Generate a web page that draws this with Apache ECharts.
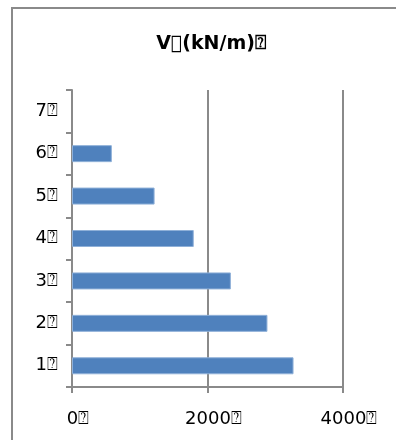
<!DOCTYPE html>
<html>
<head>
<meta charset="utf-8">
<script src="https://cdn.jsdelivr.net/npm/echarts@6/dist/echarts.min.js"></script>
<style>
html,body{margin:0;padding:0;background:#fff;}
#c{width:396px;height:440px;}
</style>
</head>
<body>
<div id="c"></div>
<script>
var BOX = '\u2370';
var HEX = '\uE000';
var titleText = 'V' + HEX + '(kN/m)' + BOX;
var categories = ['1' + BOX, '2' + BOX, '3' + BOX, '4' + BOX, '5' + BOX, '6' + BOX, '7' + BOX];
var values = [3270, 2885, 2345, 1797, 1219, 588, null];
var xTicks = [0, 2000, 4000];

var chart = echarts.init(document.getElementById('c'), null, {renderer: 'canvas'});
chart.setOption({
  animation: false,
  backgroundColor: '#fff',
  graphic: [{
    type: 'rect', shape: {x: 12, y: 8, width: 400, height: 450},
    style: {fill: 'none', stroke: '#8a8a8a', lineWidth: 2}, silent: true
  }, {
    type: 'text', x: 211, y: 44, silent: true,
    style: {text: titleText, align: 'center', verticalAlign: 'middle',
      font: 'bold 19px "DejaVu Sans"', fill: '#000'}
  }],
  grid: {left: 72, right: 53, top: 90, bottom: 53, containLabel: false},
  xAxis: {
    type: 'value', min: xTicks[0], max: xTicks[xTicks.length - 1], interval: 2000,
    axisLine: {show: true, lineStyle: {color: '#8a8a8a', width: 2}},
    axisTick: {show: true, inside: false, length: 6, lineStyle: {color: '#8a8a8a', width: 2}},
    splitLine: {show: true, lineStyle: {color: '#8a8a8a', width: 2}},
    axisLabel: {
      margin: 23, color: '#000', fontFamily: 'DejaVu Sans', fontSize: 18,
      padding: [0, 0, 0, 12],
      formatter: function (v) { return v + BOX; }
    }
  },
  yAxis: {
    type: 'category', data: categories, boundaryGap: true,
    axisLine: {show: true, lineStyle: {color: '#8a8a8a', width: 2}},
    axisTick: {show: true, inside: false, length: 6, alignWithLabel: false, lineStyle: {color: '#8a8a8a', width: 2}},
    splitLine: {show: false},
    axisLabel: {margin: 14, color: '#000', fontFamily: 'DejaVu Sans', fontSize: 18}
  },
  series: [{
    type: 'bar', data: values, barWidth: 17,
    itemStyle: {color: '#4f81bd', borderColor: '#8fb0d8', borderWidth: 1}
  }]
});
</script>
</body>
</html>
